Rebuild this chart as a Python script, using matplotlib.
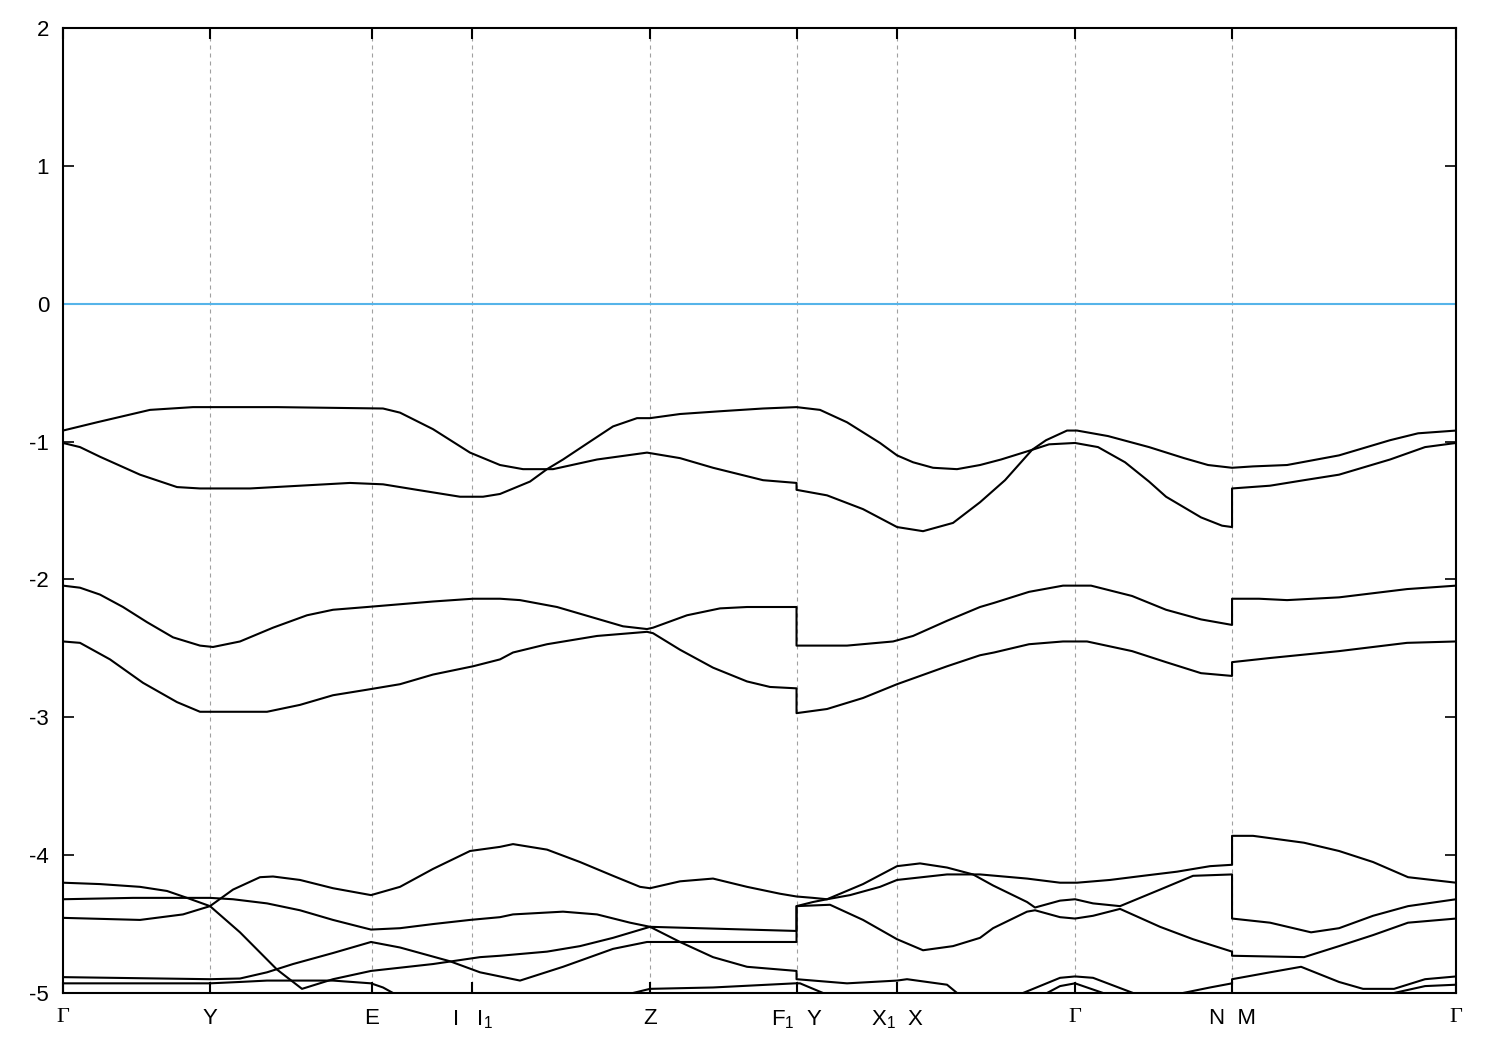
import matplotlib
matplotlib.use("Agg")
import matplotlib.pyplot as plt

plt.rcParams['font.family'] = ['Liberation Sans', 'DejaVu Sans']
plt.rcParams['mathtext.fontset'] = 'custom'
plt.rcParams['mathtext.rm'] = 'Liberation Sans'
plt.rcParams['mathtext.default'] = 'regular'

# high symmetry points along the k-path (path length units)
kpos = [0.0, 1.47, 3.085, 4.09, 5.87, 7.335, 8.34, 10.12, 11.69, 13.93]
klabels = [u'\u0393', 'Y', 'E', r'I   I$_1$', 'Z', r'F$_1$  Y', r'X$_1$  X', u'\u0393', 'N  M', u'\u0393']

yticks = [-5, -4, -3, -2, -1, 0, 1, 2]
efermi = 0.0

# bands: (k, energy in eV)
band_a = [(0, -0.92), (0.34, -0.86), (0.87, -0.77), (1.30, -0.75), (2.14, -0.75), (3.20, -0.76),
          (3.37, -0.79), (3.70, -0.91), (4.07, -1.08), (4.37, -1.17), (4.60, -1.20), (4.90, -1.20),
          (5.34, -1.13), (5.84, -1.08), (6.17, -1.12), (6.50, -1.19), (7.00, -1.28), (7.335, -1.30),
          (7.335, -1.35), (7.64, -1.39), (8.00, -1.49), (8.34, -1.62), (8.60, -1.65), (8.90, -1.59),
          (9.17, -1.44), (9.42, -1.28), (9.69, -1.06), (9.83, -0.99), (10.04, -0.92), (10.14, -0.92),
          (10.45, -0.96), (10.86, -1.04), (11.21, -1.12), (11.45, -1.17), (11.69, -1.19), (11.90, -1.18),
          (12.24, -1.17), (12.76, -1.10), (13.27, -0.99), (13.55, -0.94), (13.93, -0.92)]

band_b = [(0, -1.01), (0.17, -1.04), (0.37, -1.11), (0.77, -1.24), (1.14, -1.33), (1.37, -1.34),
          (1.87, -1.34), (2.37, -1.32), (2.87, -1.30), (3.20, -1.31), (3.54, -1.35), (3.97, -1.40),
          (4.20, -1.40), (4.37, -1.38), (4.67, -1.29), (4.84, -1.20), (5.00, -1.13), (5.27, -1.00),
          (5.50, -0.89), (5.74, -0.83), (5.87, -0.83), (6.17, -0.80), (6.57, -0.78), (7.00, -0.76),
          (7.335, -0.75), (7.57, -0.77), (7.84, -0.86), (8.17, -1.01), (8.34, -1.10), (8.50, -1.15),
          (8.70, -1.19), (8.94, -1.20), (9.17, -1.17), (9.38, -1.13), (9.69, -1.06), (9.86, -1.02),
          (10.12, -1.01), (10.35, -1.04), (10.62, -1.15), (10.86, -1.29), (11.03, -1.40), (11.38, -1.55),
          (11.59, -1.61), (11.69, -1.62), (11.69, -1.34), (12.07, -1.32), (12.41, -1.28), (12.76, -1.24),
          (13.27, -1.13), (13.62, -1.04), (13.93, -1.01)]

band_c = [(0, -2.045), (0.17, -2.06), (0.37, -2.11), (0.60, -2.20), (0.84, -2.31), (1.10, -2.42),
          (1.37, -2.48), (1.50, -2.49), (1.77, -2.45), (2.10, -2.35), (2.44, -2.26), (2.70, -2.22),
          (3.04, -2.20), (3.37, -2.18), (3.70, -2.16), (4.10, -2.14), (4.37, -2.14), (4.57, -2.15),
          (4.94, -2.20), (5.27, -2.27), (5.60, -2.34), (5.84, -2.36), (5.90, -2.35), (6.24, -2.26),
          (6.57, -2.21), (6.84, -2.20), (7.335, -2.20), (7.335, -2.48), (7.84, -2.48), (8.30, -2.45),
          (8.50, -2.41), (8.84, -2.30), (9.17, -2.20), (9.31, -2.17), (9.66, -2.09), (10.00, -2.045),
          (10.28, -2.045), (10.69, -2.12), (11.03, -2.22), (11.38, -2.29), (11.69, -2.33), (11.69, -2.14),
          (11.96, -2.14), (12.24, -2.15), (12.76, -2.13), (13.44, -2.07), (13.93, -2.045)]

band_d = [(0, -2.45), (0.17, -2.46), (0.47, -2.58), (0.80, -2.75), (1.14, -2.89), (1.37, -2.96),
          (2.04, -2.96), (2.37, -2.91), (2.70, -2.84), (3.04, -2.80), (3.37, -2.76), (3.70, -2.69),
          (4.10, -2.63), (4.37, -2.58), (4.50, -2.53), (4.84, -2.47), (5.34, -2.41), (5.84, -2.38),
          (5.90, -2.39), (6.17, -2.51), (6.50, -2.64), (6.84, -2.74), (7.07, -2.78), (7.335, -2.79),
          (7.335, -2.97), (7.64, -2.94), (8.00, -2.86), (8.34, -2.76), (8.84, -2.63), (9.17, -2.55),
          (9.31, -2.53), (9.66, -2.47), (10.00, -2.45), (10.24, -2.45), (10.69, -2.52), (11.03, -2.60),
          (11.38, -2.68), (11.69, -2.70), (11.69, -2.60), (12.07, -2.57), (12.76, -2.52), (13.44, -2.46),
          (13.93, -2.45)]

band_g = [(0, -4.455), (0.77, -4.47), (1.20, -4.43), (1.47, -4.37), (1.70, -4.25), (1.97, -4.16),
          (2.10, -4.155), (2.37, -4.18), (2.70, -4.24), (3.08, -4.29), (3.37, -4.23), (3.70, -4.10),
          (4.07, -3.97), (4.37, -3.94), (4.50, -3.92), (4.84, -3.96), (5.17, -4.05), (5.50, -4.15),
          (5.77, -4.23), (5.87, -4.24), (6.17, -4.19), (6.50, -4.17), (6.84, -4.23), (7.17, -4.28),
          (7.335, -4.30), (7.50, -4.31), (7.64, -4.32), (7.87, -4.29), (8.17, -4.23), (8.34, -4.18),
          (8.84, -4.14), (9.17, -4.14), (9.64, -4.17), (9.97, -4.20), (10.14, -4.20), (10.47, -4.18),
          (10.80, -4.15), (11.14, -4.12), (11.47, -4.08), (11.69, -4.07), (11.69, -3.86), (11.90, -3.86),
          (12.41, -3.91), (12.76, -3.97), (13.10, -4.05), (13.45, -4.16), (13.93, -4.20)]

band_p = [(0, -4.20), (0.37, -4.21), (0.77, -4.23), (1.04, -4.26), (1.24, -4.31), (1.47, -4.37),
          (1.77, -4.56), (2.14, -4.83), (2.39, -4.97), (2.70, -4.90), (3.08, -4.84), (3.70, -4.79),
          (4.17, -4.74), (4.37, -4.73), (4.84, -4.70), (5.17, -4.66), (5.50, -4.60), (5.87, -4.52),
          (6.60, -4.535), (7.335, -4.55), (7.335, -4.37), (7.50, -4.34), (7.64, -4.32), (8.00, -4.21),
          (8.34, -4.08), (8.57, -4.06), (8.84, -4.09), (9.10, -4.14), (9.30, -4.22), (9.64, -4.34),
          (9.72, -4.38), (9.97, -4.33), (10.12, -4.32), (10.30, -4.35), (10.57, -4.37), (10.97, -4.25),
          (11.30, -4.15), (11.69, -4.14), (11.69, -4.46), (12.07, -4.49), (12.48, -4.56), (12.76, -4.53),
          (13.10, -4.44), (13.45, -4.37), (13.93, -4.32)]

band_q = [(0, -4.32), (0.70, -4.31), (1.47, -4.31), (1.70, -4.32), (2.04, -4.35), (2.37, -4.40),
          (2.70, -4.47), (2.97, -4.52), (3.08, -4.54), (3.37, -4.53), (3.70, -4.50), (4.07, -4.47),
          (4.37, -4.45), (4.50, -4.43), (5.00, -4.41), (5.34, -4.43), (5.67, -4.49), (5.87, -4.52),
          (6.17, -4.63), (6.50, -4.74), (6.84, -4.81), (7.335, -4.84), (7.335, -4.90), (7.84, -4.93),
          (8.34, -4.91), (8.44, -4.90), (8.84, -4.94), (8.94, -5.00), (9.12, -5.10)]

band_r = [(0, -4.885), (1.47, -4.90), (1.77, -4.895), (2.04, -4.85), (2.30, -4.79), (2.70, -4.71),
          (3.08, -4.63), (3.37, -4.67), (3.87, -4.77), (4.17, -4.85), (4.37, -4.88), (4.57, -4.91),
          (5.00, -4.81), (5.50, -4.68), (5.84, -4.63), (6.60, -4.63), (7.335, -4.63), (7.335, -4.37),
          (7.67, -4.36), (8.00, -4.47), (8.34, -4.61), (8.60, -4.69), (8.90, -4.66), (9.17, -4.60),
          (9.30, -4.53), (9.64, -4.41), (9.72, -4.40), (9.97, -4.45), (10.12, -4.46), (10.30, -4.44),
          (10.57, -4.39), (10.97, -4.52), (11.30, -4.61), (11.69, -4.70), (11.69, -4.73), (12.41, -4.74),
          (12.76, -4.66), (13.10, -4.58), (13.45, -4.49), (13.93, -4.46)]

band_s = [(0, -4.93), (1.47, -4.93), (1.77, -4.92), (2.04, -4.91), (2.37, -4.91), (2.70, -4.91),
          (3.08, -4.93), (3.20, -4.96), (3.30, -5.00), (3.47, -5.10)]

band_t = [(5.52, -5.10), (5.70, -5.00), (5.87, -4.97), (6.50, -4.96), (7.32, -4.93), (7.37, -4.93),
          (7.60, -5.00), (7.77, -5.10)]

band_u = [(9.42, -5.10), (9.60, -5.00), (9.97, -4.89), (10.12, -4.88), (10.30, -4.89), (10.70, -5.00),
          (10.87, -5.10)]

band_v = [(9.72, -5.10), (9.84, -5.00), (9.97, -4.95), (10.12, -4.93), (10.40, -5.00), (10.52, -5.10)]

band_w = [(11.02, -5.10), (11.20, -5.00), (11.47, -4.96), (11.69, -4.93), (11.69, -4.90), (12.07, -4.85),
          (12.38, -4.81), (12.76, -4.92), (13.00, -4.97), (13.31, -4.97), (13.62, -4.90), (13.93, -4.88)]

band_x = [(13.17, -5.10), (13.31, -5.00), (13.62, -4.95), (13.93, -4.94)]

bands = [band_a, band_b, band_c, band_d, band_g, band_p, band_q, band_r,
         band_s, band_t, band_u, band_v, band_w, band_x]

fig = plt.figure(figsize=(15, 10.5), dpi=100)
ax = fig.add_axes([0.042, 0.0543, 0.9287, 0.919])

for kx in kpos[1:-1]:
	ax.axvline(kx, color='#a0a0a0', lw=0.8, dashes=(3.6, 3.6), zorder=1)

ax.axhline(efermi, color='#56b4e9', lw=1.5, zorder=2)

for b in bands:
	ks = [p[0] for p in b]
	es = [p[1] for p in b]
	ax.plot(ks, es, color='black', lw=1.5, zorder=3)

ax.set_xlim(kpos[0], kpos[-1])
ax.set_ylim(-5, 2)
ax.set_yticks(yticks)
ax.set_yticklabels([str(v) for v in yticks])
ax.set_xticks(kpos)
ax.set_xticklabels(klabels)
for lab in ax.get_xticklabels():
	if lab.get_text() == u'\u0393':
		lab.set_fontfamily(['Liberation Serif', 'DejaVu Serif'])
		lab.set_fontsize(17.5)

ax.tick_params(axis='y', direction='in', length=8, width=1.2, left=True, right=True,
               labelsize=16, pad=10)
ax.tick_params(axis='x', direction='in', length=8, width=1.5, top=True, bottom=True,
               labelsize=16, pad=11)
for s in ax.spines.values():
	s.set_linewidth(1.5)
	s.set_zorder(5)

fig.savefig('out.png', dpi=100)
